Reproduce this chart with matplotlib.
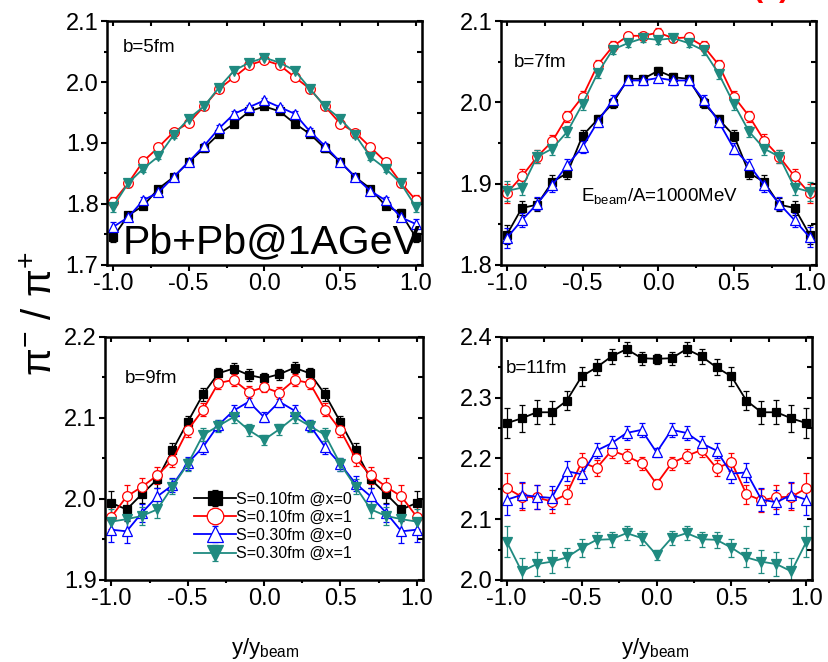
import numpy as np
import matplotlib
matplotlib.use("Agg")
import matplotlib.pyplot as plt
from matplotlib.ticker import MultipleLocator

plt.rcParams['font.family'] = ['Liberation Sans', 'DejaVu Sans']
plt.rcParams['mathtext.fontset'] = 'custom'
plt.rcParams['mathtext.rm'] = 'Liberation Sans'

# rapidity y/y_beam
x = [-1.0, -0.9, -0.8, -0.7, -0.6, -0.5, -0.4, -0.3, -0.2, -0.1, 0.0,
     0.1, 0.2, 0.3, 0.4, 0.5, 0.6, 0.7, 0.8, 0.9, 1.0]

labels = ['S=0.10fm @x=0', 'S=0.10fm @x=1', 'S=0.30fm @x=0', 'S=0.30fm @x=1']

# b = 5 fm
b5_black = [1.745, 1.781, 1.797, 1.825, 1.844, 1.869, 1.891, 1.915, 1.932, 1.952, 1.960,
            1.952, 1.932, 1.915, 1.891, 1.869, 1.844, 1.825, 1.797, 1.785, 1.745]
b5_red = [1.803, 1.834, 1.870, 1.893, 1.918, 1.933, 1.960, 1.989, 2.008, 2.028, 2.036,
          2.028, 2.008, 1.989, 1.960, 1.932, 1.917, 1.893, 1.869, 1.835, 1.806]
b5_blue = [1.762, 1.778, 1.806, 1.819, 1.844, 1.869, 1.895, 1.924, 1.948, 1.959, 1.970,
           1.959, 1.948, 1.919, 1.895, 1.869, 1.844, 1.821, 1.806, 1.778, 1.767]
b5_teal = [1.795, 1.834, 1.858, 1.878, 1.913, 1.940, 1.960, 1.991, 2.019, 2.032, 2.040,
           2.032, 2.019, 1.989, 1.960, 1.940, 1.913, 1.877, 1.858, 1.834, 1.795]
b5_err = [0.008, 0.006, 0.005, 0.005, 0.005, 0.005, 0.005, 0.005, 0.004, 0.004, 0.004,
          0.004, 0.004, 0.005, 0.005, 0.005, 0.005, 0.005, 0.005, 0.006, 0.008]

# b = 7 fm
b7_black = [1.837, 1.870, 1.874, 1.902, 1.913, 1.959, 1.979, 1.999, 2.029, 2.029, 2.039,
            2.031, 2.029, 1.999, 1.979, 1.959, 1.913, 1.902, 1.874, 1.870, 1.837]
b7_red = [1.888, 1.909, 1.933, 1.952, 1.983, 2.007, 2.046, 2.069, 2.082, 2.082, 2.086,
          2.079, 2.080, 2.069, 2.046, 2.007, 1.983, 1.953, 1.933, 1.909, 1.888]
b7_blue = [1.833, 1.855, 1.875, 1.898, 1.923, 1.945, 1.976, 2.003, 2.027, 2.027, 2.030,
           2.027, 2.027, 2.003, 1.976, 1.943, 1.923, 1.898, 1.875, 1.855, 1.834]
b7_teal = [1.891, 1.895, 1.933, 1.943, 1.964, 1.998, 2.036, 2.065, 2.073, 2.079, 2.077,
           2.079, 2.073, 2.064, 2.035, 1.998, 1.964, 1.943, 1.933, 1.895, 1.890]
b7_err = [0.012, 0.009, 0.008, 0.008, 0.007, 0.007, 0.006, 0.006, 0.005, 0.005, 0.005,
          0.005, 0.005, 0.006, 0.006, 0.007, 0.007, 0.008, 0.008, 0.009, 0.012]

# b = 9 fm
b9_black = [1.995, 1.987, 2.006, 2.024, 2.060, 2.095, 2.129, 2.155, 2.161, 2.153, 2.149,
            2.154, 2.162, 2.155, 2.129, 2.095, 2.060, 2.024, 2.006, 1.987, 1.995]
b9_red = [1.978, 2.003, 2.015, 2.029, 2.048, 2.085, 2.110, 2.143, 2.147, 2.132, 2.138,
          2.131, 2.147, 2.143, 2.110, 2.085, 2.050, 2.029, 2.015, 2.003, 1.978]
b9_blue = [1.962, 1.960, 1.983, 2.003, 2.017, 2.044, 2.064, 2.091, 2.109, 2.120, 2.101,
           2.120, 2.109, 2.091, 2.064, 2.043, 2.019, 2.003, 1.983, 1.960, 1.962]
b9_teal = [1.972, 1.975, 1.979, 1.987, 2.015, 2.043, 2.079, 2.090, 2.101, 2.085, 2.073,
           2.086, 2.101, 2.090, 2.079, 2.043, 2.015, 1.987, 1.979, 1.975, 1.972]
b9_err = [0.015, 0.014, 0.011, 0.010, 0.009, 0.008, 0.008, 0.007, 0.007, 0.007, 0.006,
          0.007, 0.007, 0.007, 0.008, 0.008, 0.009, 0.010, 0.011, 0.014, 0.015]

# b = 11 fm
b11_black = [2.258, 2.266, 2.276, 2.276, 2.295, 2.335, 2.350, 2.368, 2.380, 2.365, 2.364,
             2.365, 2.380, 2.368, 2.350, 2.335, 2.295, 2.276, 2.276, 2.266, 2.258]
b11_red = [2.151, 2.137, 2.136, 2.129, 2.141, 2.194, 2.184, 2.213, 2.204, 2.192, 2.158,
           2.192, 2.204, 2.214, 2.184, 2.194, 2.141, 2.131, 2.136, 2.137, 2.151]
b11_blue = [2.132, 2.140, 2.137, 2.135, 2.179, 2.174, 2.213, 2.225, 2.242, 2.247, 2.210,
            2.247, 2.242, 2.225, 2.213, 2.175, 2.177, 2.132, 2.128, 2.140, 2.132]
b11_teal = [2.063, 2.014, 2.026, 2.030, 2.037, 2.053, 2.066, 2.067, 2.077, 2.069, 2.041,
            2.069, 2.077, 2.067, 2.066, 2.053, 2.037, 2.030, 2.026, 2.014, 2.063]
b11_err = [0.025, 0.022, 0.020, 0.019, 0.016, 0.015, 0.013, 0.012, 0.012, 0.011, 0.008,
           0.011, 0.012, 0.012, 0.013, 0.015, 0.016, 0.019, 0.020, 0.022, 0.025]

colors = ['#000000', '#ff0000', '#0000ff', '#1f8a80']
markers = ['s', 'o', '^', 'v']
filled = [True, False, False, True]

panels = [
    ([b5_black, b5_red, b5_blue, b5_teal], b5_err, (1.7, 2.1), 'b=5fm'),
    ([b7_black, b7_red, b7_blue, b7_teal], b7_err, (1.8, 2.1), 'b=7fm'),
    ([b9_black, b9_red, b9_blue, b9_teal], b9_err, (1.9, 2.2), 'b=9fm'),
    ([b11_black, b11_red, b11_blue, b11_teal], b11_err, (2.0, 2.4), 'b=11fm'),
]

positions = [
    [0.129, 0.600, 0.380, 0.368],
    [0.604, 0.600, 0.380, 0.368],
    [0.127, 0.124, 0.383, 0.367],
    [0.604, 0.124, 0.376, 0.367],
]
label_pos = [(0.05, 0.89), (0.04, 0.83), (0.06, 0.83), (0.015, 0.87)]

fig = plt.figure(figsize=(8.29, 6.62), dpi=100)
axes = []
for i, (series, err, ylim, blab) in enumerate(panels):
    ax = fig.add_axes(positions[i])
    axes.append(ax)
    for s, c, m, f, lab in zip(series, colors, markers, filled, labels):
        ax.errorbar(x, s, yerr=err, color=c, lw=1.3, marker=m, ms=7 if m != 's' else 6,
                    mfc=c if f else 'white', mec=c, mew=0.9,
                    ecolor=c, elinewidth=0.9, capsize=2.2, capthick=0.9, label=lab)
    ax.set_xlim(-1.04, 1.04)
    ax.set_ylim(*ylim)
    ax.xaxis.set_major_locator(MultipleLocator(0.5))
    ax.xaxis.set_minor_locator(MultipleLocator(0.25))
    ax.yaxis.set_major_locator(MultipleLocator(0.1))
    ax.yaxis.set_minor_locator(MultipleLocator(0.05))
    ax.xaxis.set_major_formatter(plt.FormatStrFormatter('%.1f'))
    ax.yaxis.set_major_formatter(plt.FormatStrFormatter('%.1f'))
    ax.tick_params(which='major', direction='out', length=4, width=1.5, labelsize=17, pad=2)
    ax.tick_params(which='minor', direction='out', length=2.5, width=1.5)
    for sp in ax.spines.values():
        sp.set_linewidth(1.8)
    # inward ticks on top and right
    top = ax.secondary_xaxis('top')
    top.xaxis.set_major_locator(MultipleLocator(0.25))
    top.tick_params(direction='in', length=3.5, width=1.5, labeltop=False)
    right = ax.secondary_yaxis('right')
    right.yaxis.set_major_locator(MultipleLocator(0.05))
    right.tick_params(direction='in', length=3.5, width=1.5, labelright=False)
    ax.text(label_pos[i][0], label_pos[i][1], blab, transform=ax.transAxes,
            fontsize=13.5, ha='left', va='center')

axes[0].text(0.05, 0.045, 'Pb+Pb@1AGeV', transform=axes[0].transAxes,
             fontsize=29.5, ha='left', va='baseline', clip_on=False)
axes[1].text(0.255, 0.28, r'E$_{\rm beam}$/A=1000MeV', transform=axes[1].transAxes,
             fontsize=13.5, ha='left', va='center')

axes[2].legend(loc='upper left', bbox_to_anchor=(0.26, 0.39), frameon=False,
               fontsize=11.5, handlelength=2.6, handletextpad=0.0, labelspacing=0.2,
               markerscale=1.7, borderaxespad=0)

fig.text(0.05, 0.526, r'π$^{-}$ / π$^{+}$', rotation=90, fontsize=29,
         ha='center', va='center')
fig.text(0.32, 0.02, r'y/y$_{\rm beam}$', fontsize=16, ha='center', va='center')
fig.text(0.79, 0.02, r'y/y$_{\rm beam}$', fontsize=16, ha='center', va='center')

# partially visible panel tag at the top edge
fig.text(0.93, 0.996, '(c)', color='red', fontsize=22, fontweight='bold',
         ha='center', va='bottom')

fig.savefig('out.png', dpi=100)
